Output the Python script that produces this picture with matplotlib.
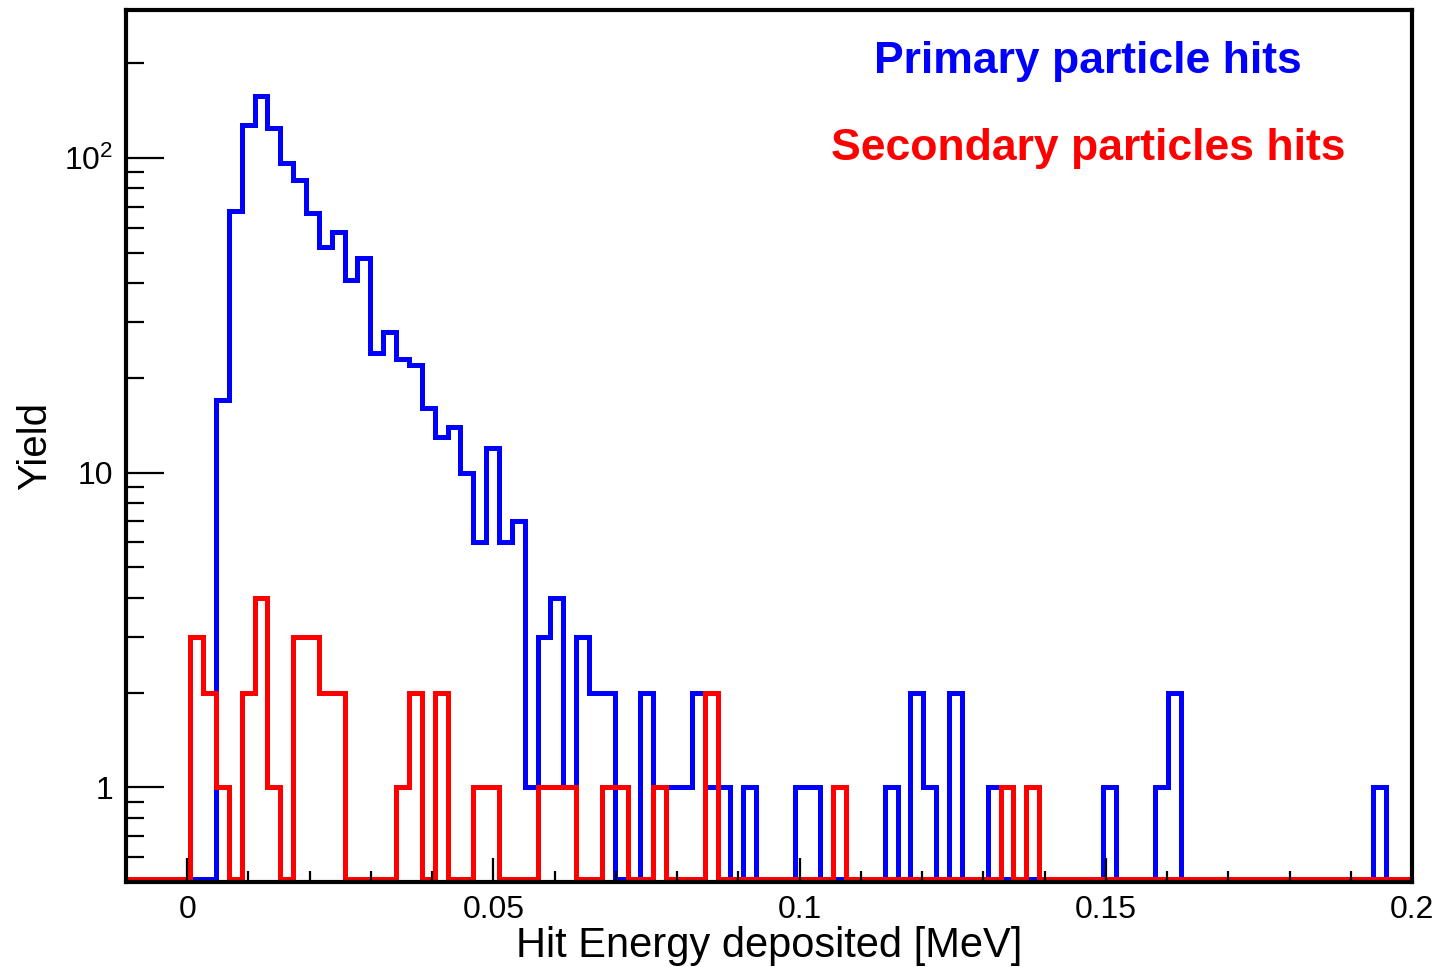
"""
Hit energy spectrum: primary vs secondary particle hits (log-scale yield).
"""

import numpy as np
import matplotlib
matplotlib.use("Agg")
import matplotlib.pyplot as plt
from matplotlib.ticker import FixedLocator, FixedFormatter, NullFormatter

# ── Histogram binning (100 bins over the deposited-energy range, MeV) ────────
E_MIN, E_MAX, N_BINS = -0.01, 0.2, 100

# ── Bin contents ─────────────────────────────────────────────────────────────
primary_counts = [
    0, 0, 0, 0, 0, 0, 0, 17, 68, 127,
    157, 124, 96, 85, 67, 52, 58, 41, 48, 24,
    28, 23, 22, 16, 13, 14, 10, 6, 12, 6,
    7, 1, 3, 4, 1, 3, 2, 2, 0, 0,
    2, 1, 1, 1, 2, 1, 1, 0, 1, 0,
    0, 0, 1, 1, 0, 0, 0, 0, 0, 1,
    0, 2, 1, 0, 2, 0, 0, 1, 0, 0,
    0, 0, 0, 0, 0, 0, 1, 0, 0, 0,
    1, 2, 0, 0, 0, 0, 0, 0, 0, 0,
    0, 0, 0, 0, 0, 0, 0, 1, 0, 0,
]

secondary_counts = [
    0, 0, 0, 0, 0, 3, 2, 1, 0, 2,
    4, 1, 0, 3, 3, 2, 2, 0, 0, 0,
    0, 1, 2, 0, 2, 0, 0, 1, 1, 0,
    0, 0, 1, 1, 1, 0, 0, 1, 1, 0,
    0, 1, 0, 0, 0, 2, 0, 0, 0, 0,
    0, 0, 0, 0, 0, 1, 0, 0, 0, 0,
    0, 0, 0, 0, 0, 0, 0, 0, 1, 0,
    1, 0, 0, 0, 0, 0, 0, 0, 0, 0,
    0, 0, 0, 0, 0, 0, 0, 0, 0, 0,
    0, 0, 0, 0, 0, 0, 0, 0, 0, 0,
]

series_labels = ["Primary particle hits", "Secondary particles hits"]
x_ticks = [0, 0.05, 0.1, 0.15, 0.2]
x_tick_labels = ["0", "0.05", "0.1", "0.15", "0.2"]
y_ticks = [1, 10, 100]
y_tick_labels = ["1", "10", r"$\mathregular{10^{2}}$"]

BLUE = "#0000FF"
RED = "#FF0000"
Y_MIN, Y_MAX = 0.5, 295

plt.rcParams["font.family"] = ["Liberation Sans", "DejaVu Sans"]

fig = plt.figure(figsize=(14.4, 9.67), dpi=100)
ax = fig.add_axes([0.0875, 0.0879, 0.8931, 0.9018])

edges = np.linspace(E_MIN, E_MAX, N_BINS + 1)

# empty bins run just above the lower frame edge, as in a ROOT log plot
floor = Y_MIN * 1.022
for counts, color in [(primary_counts, BLUE), (secondary_counts, RED)]:
    vals = np.clip(np.asarray(counts, dtype=float), floor, None)
    ax.stairs(vals, edges, baseline=None, color=color, linewidth=3.6)

ax.set_yscale("log")
ax.set_xlim(E_MIN, E_MAX)
ax.set_ylim(Y_MIN, Y_MAX)

# ── Axes / ticks ─────────────────────────────────────────────────────────────
for spine in ax.spines.values():
    spine.set_linewidth(3.0)
    spine.set_zorder(3)

ax.xaxis.set_major_locator(FixedLocator(x_ticks))
ax.xaxis.set_major_formatter(FixedFormatter(x_tick_labels))
ax.xaxis.set_minor_locator(FixedLocator(np.arange(-0.01, 0.2001, 0.01)))

minor_y = [m * 10.0 ** p for p in (-1, 0, 1, 2) for m in range(2, 10)]
ax.yaxis.set_major_locator(FixedLocator(y_ticks))
ax.yaxis.set_major_formatter(FixedFormatter(y_tick_labels))
ax.yaxis.set_minor_locator(FixedLocator(minor_y))
ax.yaxis.set_minor_formatter(NullFormatter())

ax.tick_params(axis="x", which="major", direction="in", length=17, width=1.6,
               labelsize=23, pad=9, top=False)
ax.tick_params(axis="x", which="minor", direction="in", length=8, width=1.6,
               top=False)
ax.tick_params(axis="y", which="major", direction="in", length=27, width=1.6,
               labelsize=23, pad=9, right=False)
ax.tick_params(axis="y", which="minor", direction="in", length=13, width=1.6,
               right=False)

ax.set_xlabel("Hit Energy deposited [MeV]", fontsize=30, labelpad=1)
ax.set_ylabel("Yield", fontsize=29, labelpad=7)

# ── In-plot legend text ──────────────────────────────────────────────────────
ax.text(0.748, 0.941, series_labels[0], transform=ax.transAxes, color=BLUE,
        fontsize=32, fontweight="bold", ha="center", va="center")
ax.text(0.748, 0.841, series_labels[1], transform=ax.transAxes, color=RED,
        fontsize=32, fontweight="bold", ha="center", va="center")

fig.savefig("out.png", dpi=100, facecolor="white")
